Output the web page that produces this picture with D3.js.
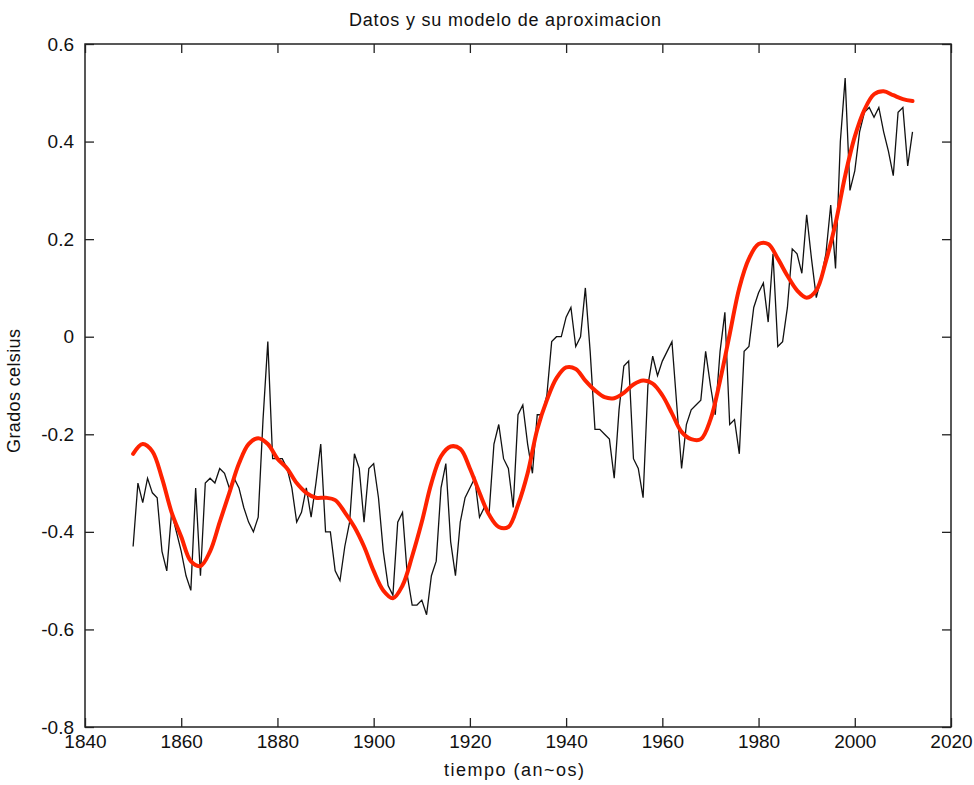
<!DOCTYPE html>
<head>
  <meta charset="utf-8">
  <script src="https://cdn.jsdelivr.net/npm/d3@7/dist/d3.min.js"></script>
  <style>
    body { margin:0; background:#fff; }
    text { font-family: "Liberation Sans", Arial, sans-serif; fill:#111; }
  </style>
</head>
<body>
<svg width="974" height="785"></svg>
<script>
// yearly data 1850-2012 (black line)
var firstYear = 1850;
var temps = [
  -0.43, -0.30, -0.34, -0.29, -0.32, -0.33, -0.44, -0.48, -0.36, -0.40,
  -0.44, -0.49, -0.52, -0.31, -0.49, -0.30, -0.29, -0.30, -0.27, -0.28,
  -0.31, -0.29, -0.31, -0.35, -0.38, -0.40, -0.37, -0.17, -0.01, -0.25,
  -0.25, -0.25, -0.27, -0.31, -0.38, -0.36, -0.31, -0.37, -0.30, -0.22,
  -0.40, -0.40, -0.48, -0.50, -0.43, -0.38, -0.24, -0.27, -0.38, -0.27,
  -0.26, -0.33, -0.44, -0.51, -0.53, -0.38, -0.36, -0.49, -0.55, -0.55,
  -0.54, -0.57, -0.49, -0.46, -0.31, -0.26, -0.42, -0.49, -0.38, -0.33,
  -0.31, -0.29, -0.37, -0.35, -0.36, -0.22, -0.18, -0.25, -0.27, -0.35,
  -0.16, -0.14, -0.22, -0.28, -0.16, -0.16, -0.12, -0.01, 0.00, -0.00,
  0.04, 0.06, -0.02, 0.00, 0.10, -0.03, -0.19, -0.19, -0.20, -0.21,
  -0.29, -0.15, -0.06, -0.05, -0.25, -0.27, -0.33, -0.10, -0.04, -0.08,
  -0.05, -0.03, -0.01, -0.14, -0.27, -0.18, -0.15, -0.14, -0.13, -0.03,
  -0.10, -0.16, -0.03, 0.05, -0.18, -0.17, -0.24, -0.03, -0.02, 0.06,
  0.09, 0.11, 0.03, 0.17, -0.02, -0.01, 0.06, 0.18, 0.17, 0.13,
  0.25, 0.16, 0.08, 0.12, 0.17, 0.27, 0.14, 0.40, 0.53, 0.30,
  0.34, 0.42, 0.46, 0.47, 0.45, 0.47, 0.42, 0.38, 0.33, 0.46,
  0.47, 0.35, 0.42
];
var years = temps.map(function (d, i) { return firstYear + i; });

// model curve (red), read every 2 years
var modelYears = [1850,1852,1854,1856,1858,1860,1862,1864,1866,1868,1870,1872,1874,1876,1878,
  1880,1882,1884,1886,1888,1890,1892,1894,1896,1898,1900,1902,1904,1906,1908,1910,1912,1914,
  1916,1918,1920,1922,1924,1926,1928,1930,1932,1934,1936,1938,1940,1942,1944,1946,1948,1950,
  1952,1954,1956,1958,1960,1962,1964,1966,1968,1970,1972,1974,1976,1978,1980,1982,1984,1986,
  1988,1990,1992,1994,1996,1998,2000,2002,2004,2006,2008,2010,2012];
var modelValues = [-0.24,-0.22,-0.235,-0.29,-0.36,-0.41,-0.46,-0.47,-0.44,-0.38,-0.32,-0.26,-0.22,-0.208,-0.22,
  -0.25,-0.27,-0.30,-0.32,-0.33,-0.33,-0.335,-0.36,-0.39,-0.43,-0.48,-0.52,-0.536,-0.51,-0.45,-0.38,-0.30,-0.245,
  -0.225,-0.23,-0.27,-0.32,-0.365,-0.39,-0.39,-0.345,-0.28,-0.19,-0.13,-0.085,-0.063,-0.066,-0.09,-0.11,-0.124,-0.126,
  -0.115,-0.098,-0.09,-0.096,-0.12,-0.157,-0.195,-0.21,-0.21,-0.17,-0.09,0.005,0.10,0.16,0.19,0.19,0.16,0.125,
  0.095,0.08,0.095,0.155,0.232,0.33,0.41,0.465,0.497,0.503,0.495,0.487,0.483];

var xTicks = [1840,1860,1880,1900,1920,1940,1960,1980,2000,2020];
var yTicks = [-0.8,-0.6,-0.4,-0.2,0,0.2,0.4,0.6];
var yTickLabels = ["-0.8","-0.6","-0.4","-0.2","0","0.2","0.4","0.6"];

var svg = d3.select("svg");
var plotLeft = 85, plotRight = 951, plotTop = 44, plotBottom = 727;

var x = d3.scaleLinear().domain([1840, 2020]).range([plotLeft, plotRight]);
var y = d3.scaleLinear().domain([-0.8, 0.6]).range([plotBottom, plotTop]);

svg.append("rect").attr("width", 974).attr("height", 785).attr("fill", "#fff");

// axes, ticks pointing inward on all sides
function style(g) {
  g.select(".domain").remove();
  g.selectAll(".tick line").attr("stroke", "#222").attr("stroke-width", 1.3);
  g.selectAll("text").attr("font-size", 19).attr("fill", "#111")
    .attr("font-family", "'Liberation Sans', Arial, sans-serif");
}
svg.append("g").attr("transform", "translate(0," + plotBottom + ")")
  .call(d3.axisBottom(x).tickValues(xTicks).tickFormat(d3.format("d")).tickSize(-9).tickPadding(8))
  .call(style);
svg.append("g").attr("transform", "translate(0," + plotTop + ")")
  .call(d3.axisTop(x).tickValues(xTicks).tickFormat("").tickSize(-9))
  .call(style);
svg.append("g").attr("transform", "translate(" + plotLeft + ",0)")
  .call(d3.axisLeft(y).tickValues(yTicks).tickFormat(function (d, i) { return yTickLabels[i]; }).tickSize(-9).tickPadding(11))
  .call(style);
svg.append("g").attr("transform", "translate(" + plotRight + ",0)")
  .call(d3.axisRight(y).tickValues(yTicks).tickFormat("").tickSize(-9))
  .call(style);

svg.append("rect")
  .attr("x", plotLeft).attr("y", plotTop)
  .attr("width", plotRight - plotLeft).attr("height", plotBottom - plotTop)
  .attr("fill", "none").attr("stroke", "#222").attr("stroke-width", 1.5);

// data line
var line = d3.line()
  .x(function (d) { return x(d[0]); })
  .y(function (d) { return y(d[1]); });

svg.append("path")
  .datum(d3.zip(years, temps))
  .attr("d", line)
  .attr("fill", "none")
  .attr("stroke", "#111")
  .attr("stroke-width", 1.3);

// model curve
svg.append("path")
  .datum(d3.zip(modelYears, modelValues))
  .attr("d", line.curve(d3.curveCatmullRom))
  .attr("fill", "none")
  .attr("stroke", "#ff2200")
  .attr("stroke-width", 4)
  .attr("stroke-linecap", "round");

// labels
svg.append("text")
  .attr("x", 505).attr("y", 26)
  .attr("text-anchor", "middle")
  .attr("font-size", 18)
  .attr("textLength", 312)
  .text("Datos y su modelo de aproximacion");

svg.append("text")
  .attr("x", 514).attr("y", 776)
  .attr("text-anchor", "middle")
  .attr("font-size", 18)
  .attr("textLength", 140)
  .text("tiempo (an~os)");

svg.append("text")
  .attr("transform", "translate(20,391) rotate(-90)")
  .attr("text-anchor", "middle")
  .attr("font-size", 18)
  .attr("textLength", 124)
  .text("Grados celsius");
</script>
</body>
